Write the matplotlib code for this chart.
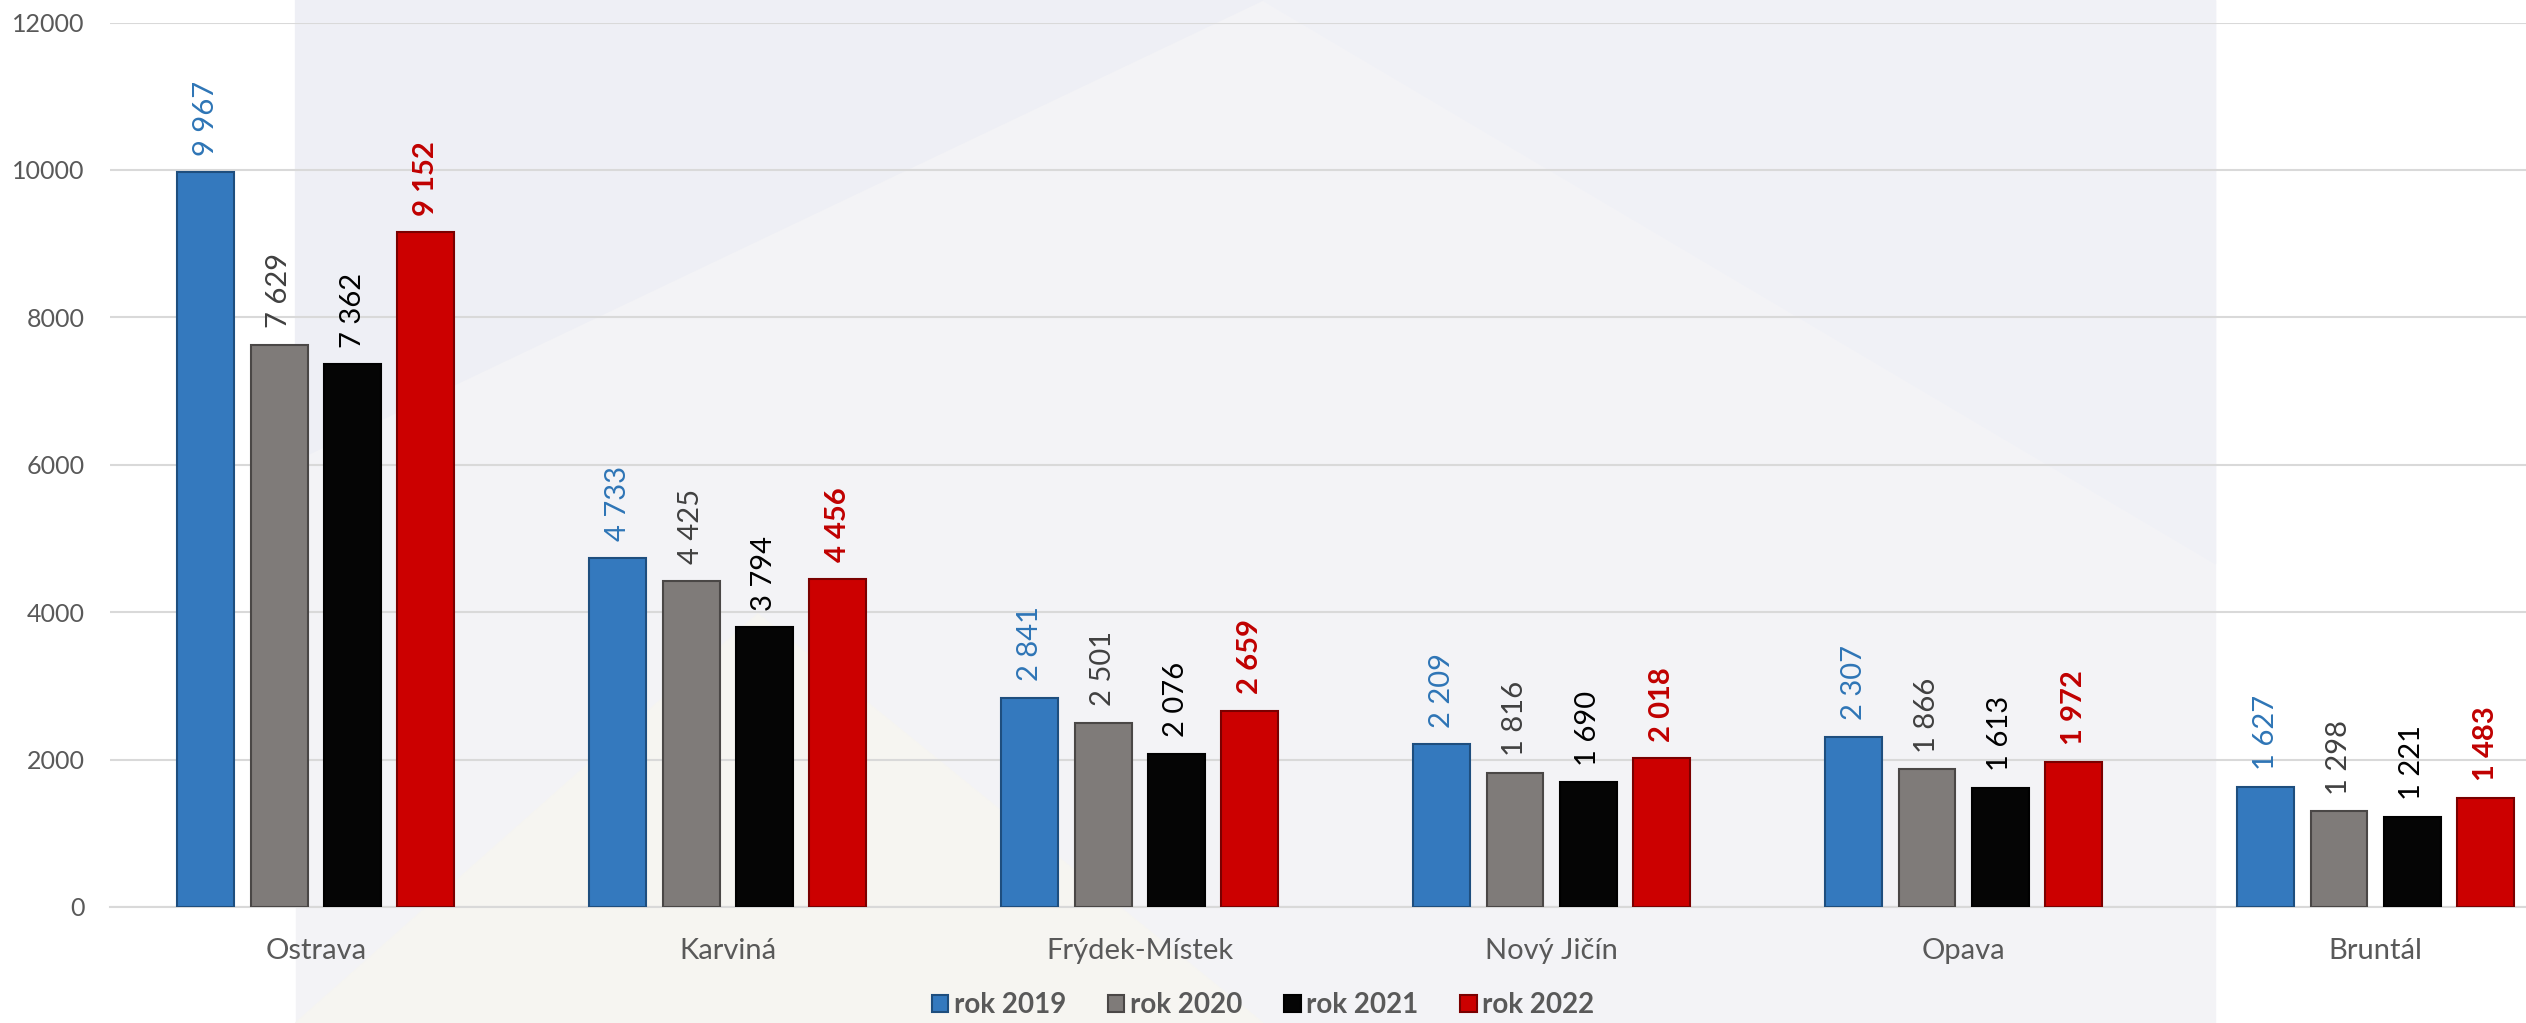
import matplotlib.pyplot as plt
from matplotlib.patches import Rectangle, Polygon
import numpy as np

# --- data ---
cities = ['Ostrava', 'Karviná', 'Frýdek-Místek', 'Nový Jičín', 'Opava', 'Bruntál']
years = ['rok 2019', 'rok 2020', 'rok 2021', 'rok 2022']
v2019 = [9967, 4733, 2841, 2209, 2307, 1627]
v2020 = [7629, 4425, 2501, 1816, 1866, 1298]
v2021 = [7362, 3794, 2076, 1690, 1613, 1221]
v2022 = [9152, 4456, 2659, 2018, 1972, 1483]
series = [v2019, v2020, v2021, v2022]

bar_colors = ['#3479BE', '#7F7B79', '#050505', '#CC0000']
edge_colors = ['#1E4E7E', '#4A4746', '#000000', '#7A0000']
label_colors = ['#2E75B6', '#404040', '#000000', '#C00000']
label_weights = ['normal', 'normal', 'normal', 'bold']

plt.rcParams['font.family'] = ['Lato', 'DejaVu Sans']

fig = plt.figure(figsize=(25.26, 10.23), dpi=100)

# faint background band, like the slide behind the chart
fig.patches.append(Rectangle((0.117, 0), 0.76, 1, transform=fig.transFigure,
                             color='#F3F3F6', zorder=-10))
fig.patches.append(Polygon([(0.117, 1), (0.5, 1), (0.117, 0.55)], closed=True,
                           transform=fig.transFigure, color='#EEEFF5', zorder=-9))
fig.patches.append(Polygon([(0.5, 1), (0.877, 1), (0.877, 0.45)], closed=True,
                           transform=fig.transFigure, color='#F0F1F6', zorder=-9))
fig.patches.append(Polygon([(0.117, 0), (0.5, 0), (0.3, 0.4)], closed=True,
                           transform=fig.transFigure, color='#F6F5F1', zorder=-9))

ax = fig.add_axes([0.0435, 0.1134, 0.9785, 0.8646])
ax.set_facecolor('none')

x = np.arange(len(cities))
width = 0.138
step = 0.178
offsets = (np.arange(4) - 1.5) * step

for i, vals in enumerate(series):
    ax.bar(x + offsets[i], vals, width, color=bar_colors[i],
           edgecolor=edge_colors[i], linewidth=1.5, zorder=3, label=years[i])
    for xi, v in zip(x + offsets[i], vals):
        ax.annotate(f'{v:,}'.replace(',', ' '), (xi, v), xytext=(0, 12),
                    textcoords='offset points', rotation=90, ha='center', va='bottom',
                    fontsize=21, color=label_colors[i], weight=label_weights[i])

ax.set_xlim(-0.5, 5.5)
ax.set_ylim(0, 12000)
ax.set_yticks(range(0, 12001, 2000))
ax.set_xticks(x)
ax.set_xticklabels(cities, fontsize=21, color='#595959')
ax.tick_params(axis='y', labelsize=18, labelcolor='#595959', length=0, pad=18)
ax.tick_params(axis='x', length=0, pad=22)
ax.grid(axis='y', color='#D9D9D9', linewidth=1.5, zorder=0)
for s in ['top', 'right', 'left']:
    ax.spines[s].set_visible(False)
ax.spines['bottom'].set_color('#D9D9D9')
ax.spines['bottom'].set_linewidth(1.5)

leg = fig.legend(loc='lower center', bbox_to_anchor=(0.5, -0.02), ncol=4, frameon=False,
                 prop={'size': 20, 'weight': 'bold'}, handlelength=0.6, handleheight=0.6,
                 handletextpad=0.2, columnspacing=1.5)
for t in leg.get_texts():
    t.set_color('#595959')

fig.savefig('out.png', dpi=100)
